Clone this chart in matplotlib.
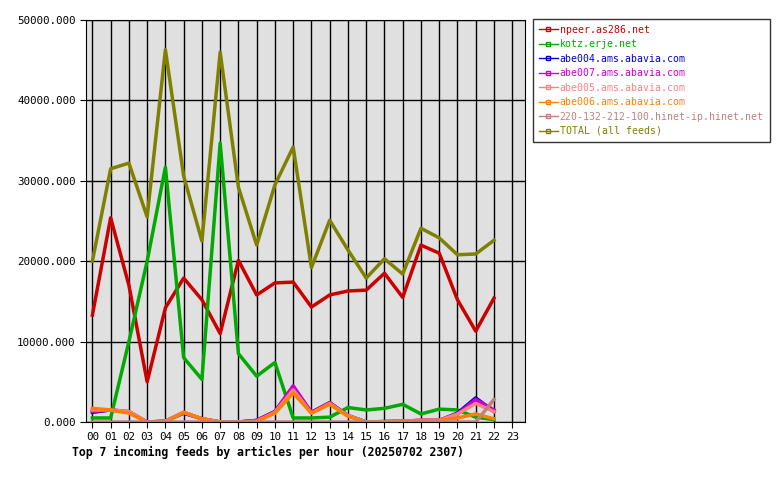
import matplotlib
matplotlib.use("Agg")
import matplotlib.pyplot as plt
from matplotlib.ticker import FormatStrFormatter

hours = list(range(23))
hour_labels = ["%02d" % h for h in range(24)]

npeer = [13.3, 25.4, 17.0, 5.0, 14.2, 17.9, 15.2, 11.0, 20.1, 15.8, 17.3, 17.4,
         14.3, 15.8, 16.3, 16.4, 18.5, 15.5, 22.0, 21.0, 15.2, 11.3, 15.4]
kotz = [0.5, 0.5, 10.0, 20.0, 31.7, 8.0, 5.3, 34.7, 8.5, 5.7, 7.4, 0.5,
        0.5, 0.6, 1.8, 1.5, 1.7, 2.2, 1.0, 1.6, 1.5, 0.6, 0.3]
abe004 = [1.2, 1.5, 1.2, 0.0, 0.1, 1.1, 0.4, 0.0, 0.0, 0.2, 1.3, 4.3,
          1.2, 2.4, 0.8, 0.0, 0.05, 0.1, 0.2, 0.2, 1.1, 3.0, 1.3]
abe007 = [1.3, 1.5, 1.3, 0.0, 0.1, 1.2, 0.4, 0.0, 0.0, 0.2, 1.3, 4.5,
          1.2, 2.4, 0.8, 0.0, 0.05, 0.1, 0.2, 0.2, 1.0, 2.8, 1.5]
abe005 = [1.5, 1.5, 1.3, 0.0, 0.1, 1.2, 0.4, 0.0, 0.0, 0.1, 1.2, 4.0,
          1.1, 2.3, 0.8, 0.0, 0.05, 0.1, 0.2, 0.2, 1.0, 2.3, 1.3]
abe006 = [1.7, 1.5, 1.1, 0.0, 0.0, 1.2, 0.4, 0.0, 0.0, 0.05, 1.1, 3.6,
          1.1, 2.2, 0.7, 0.0, 0.0, 0.1, 0.2, 0.2, 0.5, 1.0, 0.4]
hinet = [0.0] * 22 + [2.8]
total = [20.0, 31.5, 32.2, 25.5, 46.3, 30.6, 22.5, 46.0, 29.2, 22.0, 29.5, 34.2,
         19.2, 25.1, 21.4, 17.9, 20.3, 18.4, 24.1, 22.9, 20.8, 20.9, 22.6]

series = [
    ("npeer.as286.net", npeer, "#cc0000"),
    ("kotz.erje.net", kotz, "#00aa00"),
    ("abe004.ams.abavia.com", abe004, "#0000cc"),
    ("abe007.ams.abavia.com", abe007, "#cc00cc"),
    ("abe005.ams.abavia.com", abe005, "#ff8080"),
    ("abe006.ams.abavia.com", abe006, "#ff8000"),
    ("220-132-212-100.hinet-ip.hinet.net", hinet, "#c08080"),
    ("TOTAL (all feeds)", total, "#808000"),
]

plt.rcParams["font.family"] = "DejaVu Sans Mono"
fig = plt.figure(figsize=(7.8, 4.8), dpi=100)
ax = fig.add_axes([86 / 780, 58 / 480, 439 / 780, 402 / 480])
ax.set_facecolor("#e0e0e0")

for name, vals, col in series:
    ax.plot(hours, [v * 1000 for v in vals], color=col, lw=2.5, label=name)

ax.set_xlim(-0.35, 23.7)
ax.set_ylim(0, 50000)
ax.set_xticks(range(24))
ax.set_xticklabels(hour_labels, fontsize=7.8)
ax.set_yticks(range(0, 50001, 10000))
ax.yaxis.set_major_formatter(FormatStrFormatter("%.3f"))
ax.tick_params(labelsize=7.8, length=4)
ax.grid(True, color="black", lw=1)
ax.set_axisbelow(True)

leg = fig.legend(loc="upper left", bbox_to_anchor=(533 / 780, 1 - 19 / 480),
                 fontsize=7.1, frameon=True, fancybox=False, edgecolor="black",
                 handlelength=1.9, handletextpad=0.2, labelspacing=0.45,
                 borderpad=0.6, borderaxespad=0)
leg.get_frame().set_linewidth(1)
for text, (_, _, col) in zip(leg.get_texts(), series):
    text.set_color(col)
for line in leg.get_lines():
    line.set_linewidth(1)
    line.set_marker("s")
    line.set_markersize(2.5)
    line.set_markerfacecolor("none")

fig.text(72 / 780, 1 - 452 / 480, "Top 7 incoming feeds by articles per hour (20250702 2307)",
         fontsize=8.3, fontweight="bold", va="center")

fig.savefig("out.png", dpi=100)
